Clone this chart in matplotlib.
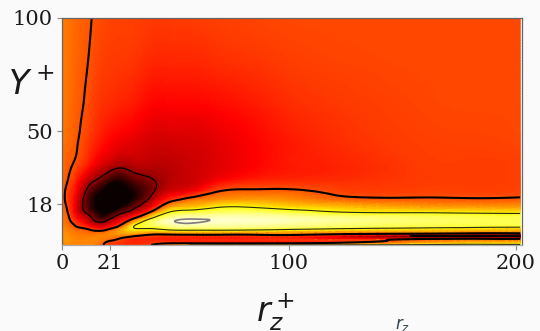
import numpy as np
import matplotlib.pyplot as plt
import matplotlib.tri as mtri

# spanwise separations r_z^+ of the sampled profiles
rz = [0, 3, 7, 12, 17, 21, 26, 32, 40, 48, 57, 68, 82, 100, 125, 155, 180, 202]
# wall-normal positions Y^+ of each profile sample
yplus = [0, 1, 2, 3, 4, 5, 6.5, 8, 10, 12, 14.5, 17, 20, 24, 29, 35, 42, 50, 62, 80, 100]

# normalised correlation, one wall-normal profile per r_z^+ station
corr_profiles = [
    [0.56, 0.57, 0.58, 0.58, 0.58, 0.58, 0.57, 0.56, 0.55, 0.54, 0.53, 0.52, 0.515, 0.52, 0.525, 0.53, 0.535, 0.54, 0.545, 0.545, 0.545],
    [0.57, 0.575, 0.58, 0.58, 0.575, 0.57, 0.56, 0.54, 0.51, 0.495, 0.47, 0.455, 0.445, 0.455, 0.485, 0.5, 0.515, 0.525, 0.53, 0.535, 0.535],
    [0.56, 0.565, 0.565, 0.56, 0.555, 0.545, 0.525, 0.485, 0.43, 0.37, 0.30, 0.285, 0.30, 0.34, 0.40, 0.465, 0.487, 0.495, 0.502, 0.51, 0.515],
    [0.57, 0.57, 0.57, 0.565, 0.555, 0.54, 0.5, 0.42, 0.3, 0.24, 0.14, 0.09, 0.09, 0.15, 0.27, 0.39, 0.435, 0.46, 0.475, 0.487, 0.495],
    [0.52, 0.53, 0.55, 0.56, 0.56, 0.55, 0.47, 0.34, 0.2, 0.08, 0.01, -0.04, -0.04, 0.03, 0.18, 0.31, 0.38, 0.415, 0.44, 0.462, 0.475],
    [0.45, 0.46, 0.5, 0.54, 0.56, 0.57, 0.53, 0.41, 0.28, 0.16, 0.01, -0.07, -0.08, -0.04, 0.09, 0.27, 0.35, 0.39, 0.43, 0.452, 0.465],
    [0.44, 0.44, 0.46, 0.49, 0.55, 0.6, 0.62, 0.55, 0.42, 0.3, 0.15, 0.0, -0.05, -0.03, 0.06, 0.23, 0.32, 0.37, 0.415, 0.447, 0.462],
    [0.43, 0.42, 0.42, 0.44, 0.5, 0.6, 0.7, 0.76, 0.66, 0.47, 0.28, 0.16, 0.05, 0.04, 0.14, 0.26, 0.31, 0.35, 0.4, 0.44, 0.46],
    [0.5, 0.45, 0.43, 0.42, 0.45, 0.54, 0.7, 0.8, 0.86, 0.74, 0.53, 0.37, 0.26, 0.18, 0.2, 0.26, 0.29, 0.32, 0.37, 0.42, 0.45],
    [0.64, 0.46, 0.42, 0.41, 0.44, 0.55, 0.74, 0.87, 0.94, 0.9, 0.76, 0.6, 0.44, 0.3, 0.26, 0.27, 0.29, 0.32, 0.37, 0.42, 0.45],
    [0.76, 0.44, 0.42, 0.41, 0.44, 0.56, 0.75, 0.89, 0.958, 0.93, 0.81, 0.65, 0.53, 0.35, 0.29, 0.29, 0.3, 0.32, 0.37, 0.42, 0.455],
    [0.77, 0.43, 0.42, 0.41, 0.44, 0.56, 0.75, 0.89, 0.938, 0.935, 0.84, 0.72, 0.58, 0.47, 0.35, 0.32, 0.32, 0.34, 0.38, 0.43, 0.46],
    [0.77, 0.43, 0.42, 0.41, 0.44, 0.55, 0.74, 0.88, 0.935, 0.93, 0.85, 0.73, 0.6, 0.5, 0.4, 0.36, 0.36, 0.37, 0.4, 0.44, 0.465],
    [0.77, 0.44, 0.43, 0.42, 0.45, 0.56, 0.71, 0.86, 0.915, 0.915, 0.81, 0.68, 0.58, 0.5, 0.42, 0.4, 0.4, 0.41, 0.43, 0.455, 0.47],
    [0.77, 0.5, 0.45, 0.38, 0.33, 0.53, 0.67, 0.83, 0.88, 0.88, 0.745, 0.64, 0.52, 0.46, 0.43, 0.42, 0.43, 0.44, 0.45, 0.465, 0.47],
    [0.77, 0.62, 0.52, 0.4, 0.2, 0.5, 0.66, 0.8, 0.85, 0.85, 0.73, 0.6, 0.505, 0.46, 0.45, 0.45, 0.455, 0.46, 0.465, 0.47, 0.47],
    [0.77, 0.68, 0.57, 0.42, 0.18, 0.46, 0.64, 0.78, 0.83, 0.83, 0.72, 0.59, 0.5, 0.46, 0.455, 0.455, 0.46, 0.465, 0.47, 0.47, 0.47],
    [0.77, 0.68, 0.57, 0.42, 0.16, 0.45, 0.63, 0.77, 0.82, 0.82, 0.71, 0.59, 0.505, 0.465, 0.46, 0.46, 0.465, 0.47, 0.47, 0.47, 0.47],
]

levels = [0.2, 0.49, 0.75, 0.95]
level_colors = ['black', 'black', '#2b2b14', '#7c7c7c']
level_widths = [0.9, 1.5, 0.8, 1.2]

xticks = [0, 21, 100, 200]
yticks = [18, 50, 100]

z = np.array(corr_profiles).T  # rows follow Y^+, columns follow r_z^+
ny, nx = z.shape

# structured triangulation in index space, refined with cubic interpolation
jj, ii = np.meshgrid(np.arange(nx, dtype=float), np.arange(ny, dtype=float))
triangles = []
for i in range(ny - 1):
    for j in range(nx - 1):
        a = i * nx + j
        triangles.append([a, a + 1, a + nx + 1])
        triangles.append([a, a + nx + 1, a + nx])
tri_idx = mtri.Triangulation(jj.ravel(), ii.ravel(), np.array(triangles))
refiner = mtri.UniformTriRefiner(tri_idx)
tri_fine, z_fine = refiner.refine_field(z.ravel(), subdiv=4)

# map index coordinates back onto r_z^+ / Y^+
xf = np.interp(tri_fine.x, np.arange(nx), rz)
yf = np.interp(tri_fine.y, np.arange(ny), yplus)
tri_phys = mtri.Triangulation(xf, yf, tri_fine.triangles)

fig = plt.figure(figsize=(5.4, 3.31), dpi=100, facecolor='#fafafa')
ax = fig.add_axes([0.1148, 0.2598, 0.851, 0.6873])

ax.tripcolor(tri_phys, z_fine, shading='gouraud', cmap='hot', vmin=0, vmax=1,
             rasterized=True)
ax.tricontour(tri_phys, z_fine, levels=levels, colors=level_colors,
              linewidths=level_widths)

ax.set_xlim(0, 202.6)
ax.set_ylim(0, 100)
ax.set_xticks(xticks)
ax.set_yticks(yticks)
ax.tick_params(direction='out', length=3.5, width=0.8, color='#888888',
               labelsize=15, labelcolor='#1a1a1a', pad=3)
for lab in ax.get_xticklabels() + ax.get_yticklabels():
    lab.set_family('DejaVu Serif')
for side, spine in ax.spines.items():
    spine.set_linewidth(0.9)
    spine.set_color('#aaaaaa' if side == 'bottom' else '#666666')

fig.text(0.0148, 1 - 95 / 331, r'$Y^+$', fontsize=24, va='baseline', color='#1a1a1a')
fig.text(0.474, 1 - 322 / 331, r'$r_z^+$', fontsize=24, va='baseline', color='#1a1a1a')
fig.text(0.731, 1 - 329 / 331, r'$r_z$', fontsize=12, va='baseline', color='#33444c')

fig.savefig('out.png', dpi=100, facecolor=fig.get_facecolor())
